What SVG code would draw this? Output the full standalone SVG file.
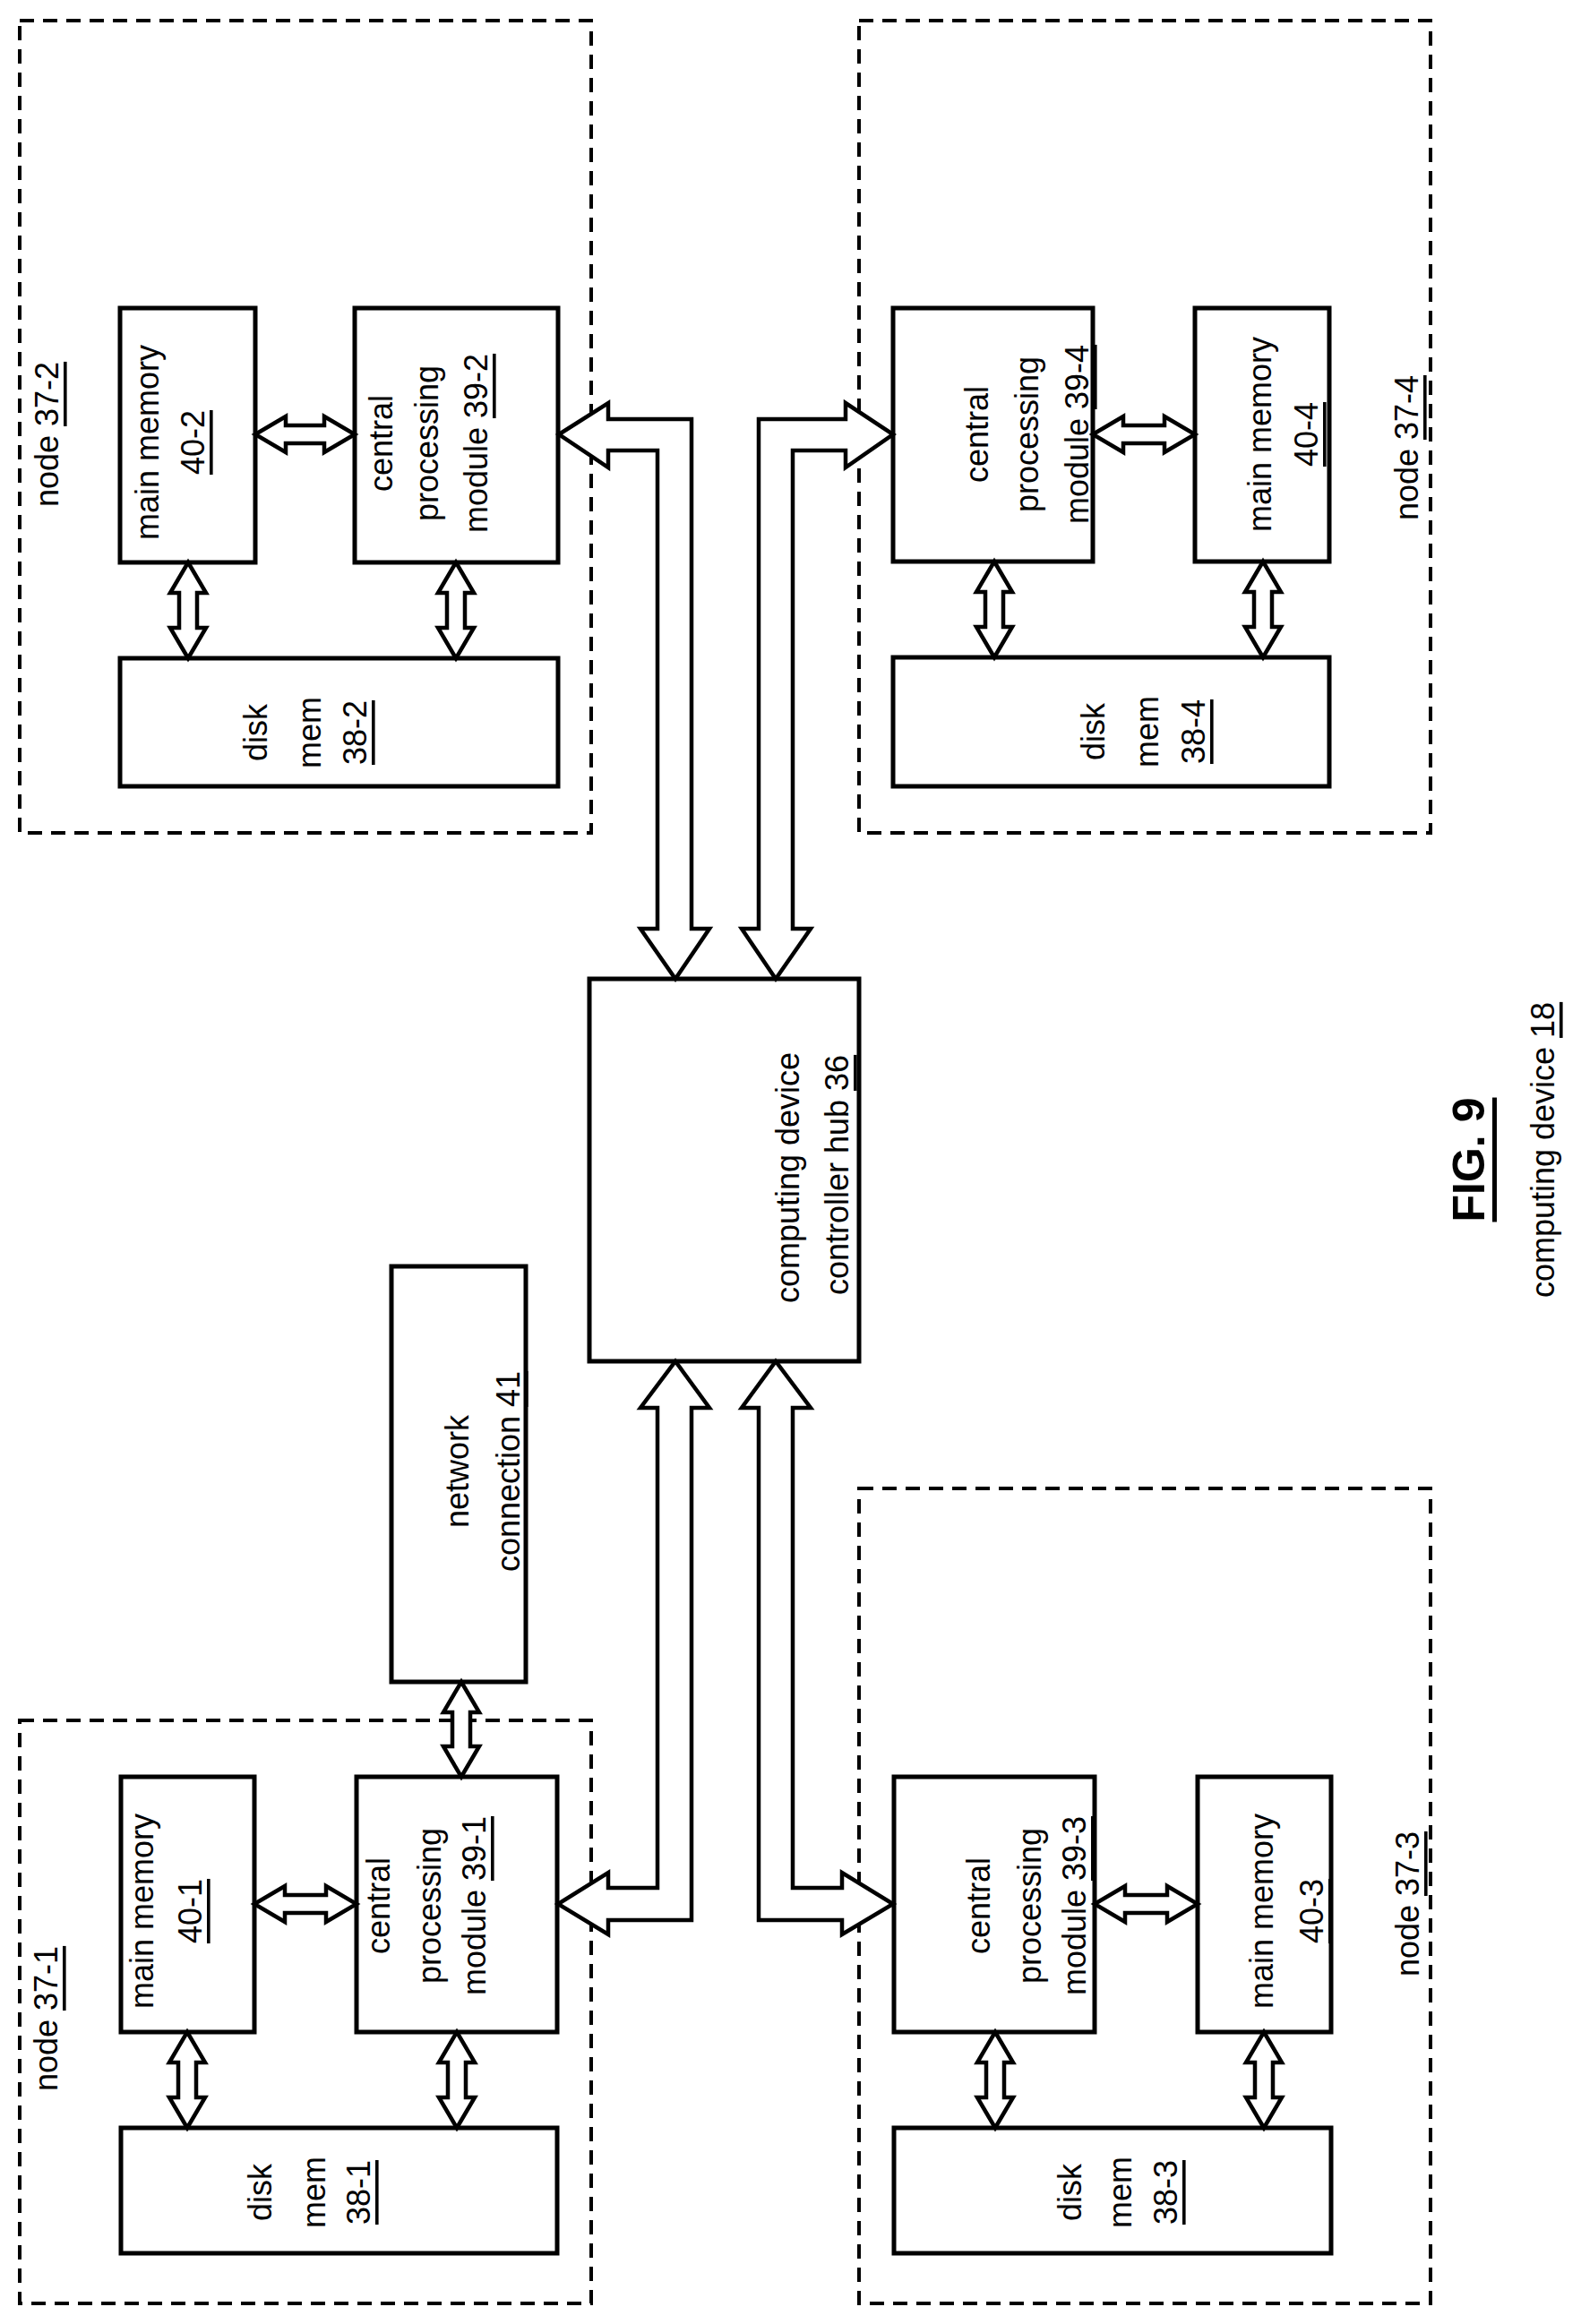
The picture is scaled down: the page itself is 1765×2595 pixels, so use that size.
<svg xmlns="http://www.w3.org/2000/svg" width="1765" height="2595" viewBox="0 0 1765 2595">
<style>
.bg{fill:#fff}
.box{fill:#fff;stroke:#000;stroke-width:5}
.dash{fill:none;stroke:#000;stroke-width:4;stroke-dasharray:16 10}
.arr{fill:#fff;stroke:#000;stroke-width:4.5;stroke-linejoin:miter}
text{font-family:"Liberation Sans",Arial,sans-serif;font-size:36px;fill:#000;text-anchor:middle;dominant-baseline:central}
.u{text-decoration:underline}
.fig{font-size:50px;font-weight:bold}
</style>
<rect class="bg" x="0" y="0" width="1765" height="2595"/>
<g id="node37-2">
<rect class="dash" x="22" y="23" width="638" height="907"/>
<text transform="translate(52,485) rotate(-90)">node <tspan class="u">37-2</tspan></text>
</g>
<g id="node37-4">
<rect class="dash" x="959" y="23" width="638" height="907"/>
<text transform="translate(1570,500) rotate(-90)">node <tspan class="u">37-4</tspan></text>
</g>
<g id="node37-1">
<rect class="dash" x="22" y="1921" width="638" height="651"/>
<text transform="translate(51,2254) rotate(-90)">node <tspan class="u">37-1</tspan></text>
</g>
<g id="node37-3">
<rect class="dash" x="959" y="1662" width="638" height="910"/>
<text transform="translate(1571,2126) rotate(-90)">node <tspan class="u">37-3</tspan></text>
</g>
<g id="mm40-2"><rect class="box" x="134" y="344" width="151" height="284"/>
<text transform="translate(164,494) rotate(-90)">main memory</text>
<text transform="translate(215,494) rotate(-90)"><tspan class="u">40-2</tspan></text></g>
<g id="cpu39-2"><rect class="box" x="396" y="344" width="227" height="284"/>
<text transform="translate(425,495) rotate(-90)">central</text>
<text transform="translate(476,495) rotate(-90)">processing</text>
<text transform="translate(531,495) rotate(-90)">module <tspan class="u">39-2</tspan></text></g>
<g id="disk38-2"><rect class="box" x="134" y="735" width="489" height="143"/>
<text transform="translate(285,818) rotate(-90)">disk</text>
<text transform="translate(345,818) rotate(-90)">mem</text>
<text transform="translate(396,818) rotate(-90)"><tspan class="u">38-2</tspan></text></g>
<g id="cpu39-4"><rect class="box" x="997" y="344" width="223" height="283"/>
<text transform="translate(1090,485) rotate(-90)">central</text>
<text transform="translate(1146,485) rotate(-90)">processing</text>
<text transform="translate(1202,485) rotate(-90)">module <tspan class="u">39-4</tspan></text></g>
<g id="mm40-4"><rect class="box" x="1334" y="344" width="150" height="283"/>
<text transform="translate(1406,485) rotate(-90)">main memory</text>
<text transform="translate(1458,485) rotate(-90)"><tspan class="u">40-4</tspan></text></g>
<g id="disk38-4"><rect class="box" x="997" y="734" width="487" height="144"/>
<text transform="translate(1220,817) rotate(-90)">disk</text>
<text transform="translate(1280,817) rotate(-90)">mem</text>
<text transform="translate(1332,817) rotate(-90)"><tspan class="u">38-4</tspan></text></g>
<g id="hub36"><rect class="box" x="658" y="1093" width="301" height="427"/>
<text transform="translate(879,1315) rotate(-90)">computing device</text>
<text transform="translate(934,1312) rotate(-90)">controller hub <tspan class="u">36</tspan></text></g>
<g id="net41"><rect class="box" x="437" y="1414" width="150" height="464"/>
<text transform="translate(510,1643) rotate(-90)">network</text>
<text transform="translate(567,1643) rotate(-90)">connection <tspan class="u">41</tspan></text></g>
<g id="mm40-1"><rect class="box" x="135" y="1984" width="149" height="285"/>
<text transform="translate(158,2134) rotate(-90)">main memory</text>
<text transform="translate(212,2134) rotate(-90)"><tspan class="u">40-1</tspan></text></g>
<g id="cpu39-1"><rect class="box" x="398" y="1984" width="224" height="285"/>
<text transform="translate(422,2128) rotate(-90)">central</text>
<text transform="translate(479,2128) rotate(-90)">processing</text>
<text transform="translate(529,2128) rotate(-90)">module <tspan class="u">39-1</tspan></text></g>
<g id="disk38-1"><rect class="box" x="135" y="2376" width="487" height="140"/>
<text transform="translate(290,2448) rotate(-90)">disk</text>
<text transform="translate(350,2448) rotate(-90)">mem</text>
<text transform="translate(400,2448) rotate(-90)"><tspan class="u">38-1</tspan></text></g>
<g id="cpu39-3"><rect class="box" x="998" y="1984" width="224" height="285"/>
<text transform="translate(1092,2128) rotate(-90)">central</text>
<text transform="translate(1149,2128) rotate(-90)">processing</text>
<text transform="translate(1199,2128) rotate(-90)">module <tspan class="u">39-3</tspan></text></g>
<g id="mm40-3"><rect class="box" x="1337" y="1984" width="149" height="285"/>
<text transform="translate(1408,2134) rotate(-90)">main memory</text>
<text transform="translate(1464,2134) rotate(-90)"><tspan class="u">40-3</tspan></text></g>
<g id="disk38-3"><rect class="box" x="998" y="2376" width="488" height="140"/>
<text transform="translate(1194,2448) rotate(-90)">disk</text>
<text transform="translate(1250,2448) rotate(-90)">mem</text>
<text transform="translate(1301,2448) rotate(-90)"><tspan class="u">38-3</tspan></text></g>
<g id="connectors">
<polygon class="arr" points="624,485 679,450 679,468 772,468 772,1037 792,1037 754,1093 715,1037 734,1037 734,503 679,503 679,522"/>
<polygon class="arr" points="754,1520 792,1572 772,1572 772,2144 679,2144 679,2160 623,2126 679,2091 679,2108 734,2108 734,1572 715,1572"/>
<polygon class="arr" points="866,1093 905,1037 885,1037 885,503 944,503 944,522 997,485 944,450 944,468 847,468 847,1037 828,1037"/>
<polygon class="arr" points="866,1520 905,1572 885,1572 885,2108 940,2108 940,2091 997,2126 940,2160 940,2144 847,2144 847,1572 828,1572"/>
<polygon class="arr" points="285,485 319,465 319,475 362,475 362,465 396,485 362,505 362,495 319,495 319,505"/>
<polygon class="arr" points="1220,485 1254,465 1254,475 1300,475 1300,465 1334,485 1300,505 1300,495 1254,495 1254,505"/>
<polygon class="arr" points="284,2126 318,2106 318,2116 364,2116 364,2106 398,2126 364,2146 364,2136 318,2136 318,2146"/>
<polygon class="arr" points="1222,2126 1256,2106 1256,2116 1303,2116 1303,2106 1337,2126 1303,2146 1303,2136 1256,2136 1256,2146"/>
<polygon class="arr" points="210,628 230,662 220,662 220,701 230,701 210,735 190,701 200,701 200,662 190,662"/>
<polygon class="arr" points="509,628 529,662 519,662 519,701 529,701 509,735 489,701 499,701 499,662 489,662"/>
<polygon class="arr" points="1110,627 1130,661 1120,661 1120,700 1130,700 1110,734 1090,700 1100,700 1100,661 1090,661"/>
<polygon class="arr" points="1410,627 1430,661 1420,661 1420,700 1430,700 1410,734 1390,700 1400,700 1400,661 1390,661"/>
<polygon class="arr" points="209,2269 229,2303 219,2303 219,2342 229,2342 209,2376 189,2342 199,2342 199,2303 189,2303"/>
<polygon class="arr" points="510,2269 530,2303 520,2303 520,2342 530,2342 510,2376 490,2342 500,2342 500,2303 490,2303"/>
<polygon class="arr" points="1111,2269 1131,2303 1121,2303 1121,2342 1131,2342 1111,2376 1091,2342 1101,2342 1101,2303 1091,2303"/>
<polygon class="arr" points="1411,2269 1431,2303 1421,2303 1421,2342 1431,2342 1411,2376 1391,2342 1401,2342 1401,2303 1391,2303"/>
<polygon class="arr" points="515,1878 535,1912 525,1912 525,1950 535,1950 515,1984 495,1950 505,1950 505,1912 495,1912"/>
</g>
<g id="caption">
<text class="fig" transform="translate(1640,1295) rotate(-90)"><tspan class="u">FIG. 9</tspan></text>
<text transform="translate(1722,1284) rotate(-90)">computing device <tspan class="u">18</tspan></text>
</g>
</svg>
